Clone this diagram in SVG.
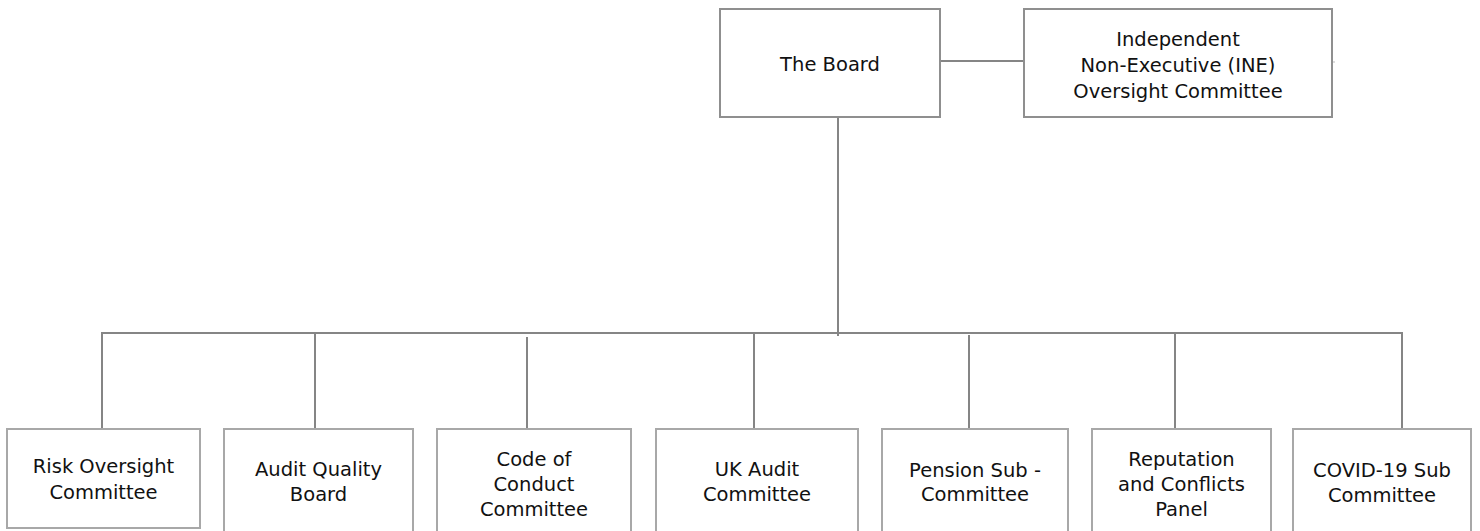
<svg xmlns="http://www.w3.org/2000/svg" width="1480" height="531" viewBox="0 0 1480 531">
<style>
.box{fill:#fff;stroke:#8f8f8f;stroke-width:2}
.sub{fill:#fff;stroke:#a8a8a8;stroke-width:2}
.ln{stroke:#858585;stroke-width:2;fill:none}
text{font-family:"DejaVu Sans","Liberation Sans",sans-serif;font-size:19.5px;fill:#111;text-anchor:middle}
</style>
<rect width="1480" height="531" fill="#fff"/>
<g id="connectors">
<line class="ln" x1="940" y1="61" x2="1024" y2="61"/>
<line class="ln" x1="1332" y1="62" x2="1335" y2="62" style="stroke:#bbb;stroke-width:1"/>
<line class="ln" x1="838" y1="117" x2="838" y2="336"/>
<line class="ln" x1="101" y1="333" x2="1403" y2="333"/>
<line class="ln" x1="102" y1="333" x2="102" y2="430"/>
<line class="ln" x1="315" y1="333" x2="315" y2="430"/>
<line class="ln" x1="527" y1="337" x2="527" y2="429"/>
<line class="ln" x1="754" y1="333" x2="754" y2="429"/>
<line class="ln" x1="969" y1="335" x2="969" y2="430"/>
<line class="ln" x1="1175" y1="333" x2="1175" y2="429"/>
<line class="ln" x1="1402" y1="333" x2="1402" y2="429"/>
</g>
<g id="board">
<rect class="box" x="720" y="9" width="220" height="108"/>
<text x="830" y="71">The Board</text>
</g>
<g id="ine">
<rect class="box" x="1024" y="9" width="308" height="108"/>
<text x="1178" y="46">Independent</text>
<text x="1178" y="72">Non-Executive (INE)</text>
<text x="1178" y="98">Oversight Committee</text>
</g>
<g id="risk">
<rect class="sub" x="7" y="429" width="193" height="99"/>
<text x="103.5" y="473">Risk Oversight</text>
<text x="103.5" y="499">Committee</text>
</g>
<g id="audit-quality">
<rect class="sub" x="224" y="429" width="189" height="110"/>
<text x="318.5" y="476">Audit Quality</text>
<text x="318.5" y="501">Board</text>
</g>
<g id="code">
<rect class="sub" x="437" y="429" width="194" height="110"/>
<text x="534" y="466">Code of</text>
<text x="534" y="491">Conduct</text>
<text x="534" y="516">Committee</text>
</g>
<g id="uk-audit">
<rect class="sub" x="656" y="429" width="202" height="110"/>
<text x="757" y="476">UK Audit</text>
<text x="757" y="501">Committee</text>
</g>
<g id="pension">
<rect class="sub" x="882" y="429" width="186" height="110"/>
<text x="975" y="477">Pension Sub -</text>
<text x="975" y="501">Committee</text>
</g>
<g id="reputation">
<rect class="sub" x="1092" y="429" width="179" height="110"/>
<text x="1181.5" y="466">Reputation</text>
<text x="1181.5" y="491">and Conflicts</text>
<text x="1181.5" y="516">Panel</text>
</g>
<g id="covid">
<rect class="sub" x="1293" y="429" width="178" height="110"/>
<text x="1382" y="477">COVID-19 Sub</text>
<text x="1382" y="502">Committee</text>
</g>
</svg>
